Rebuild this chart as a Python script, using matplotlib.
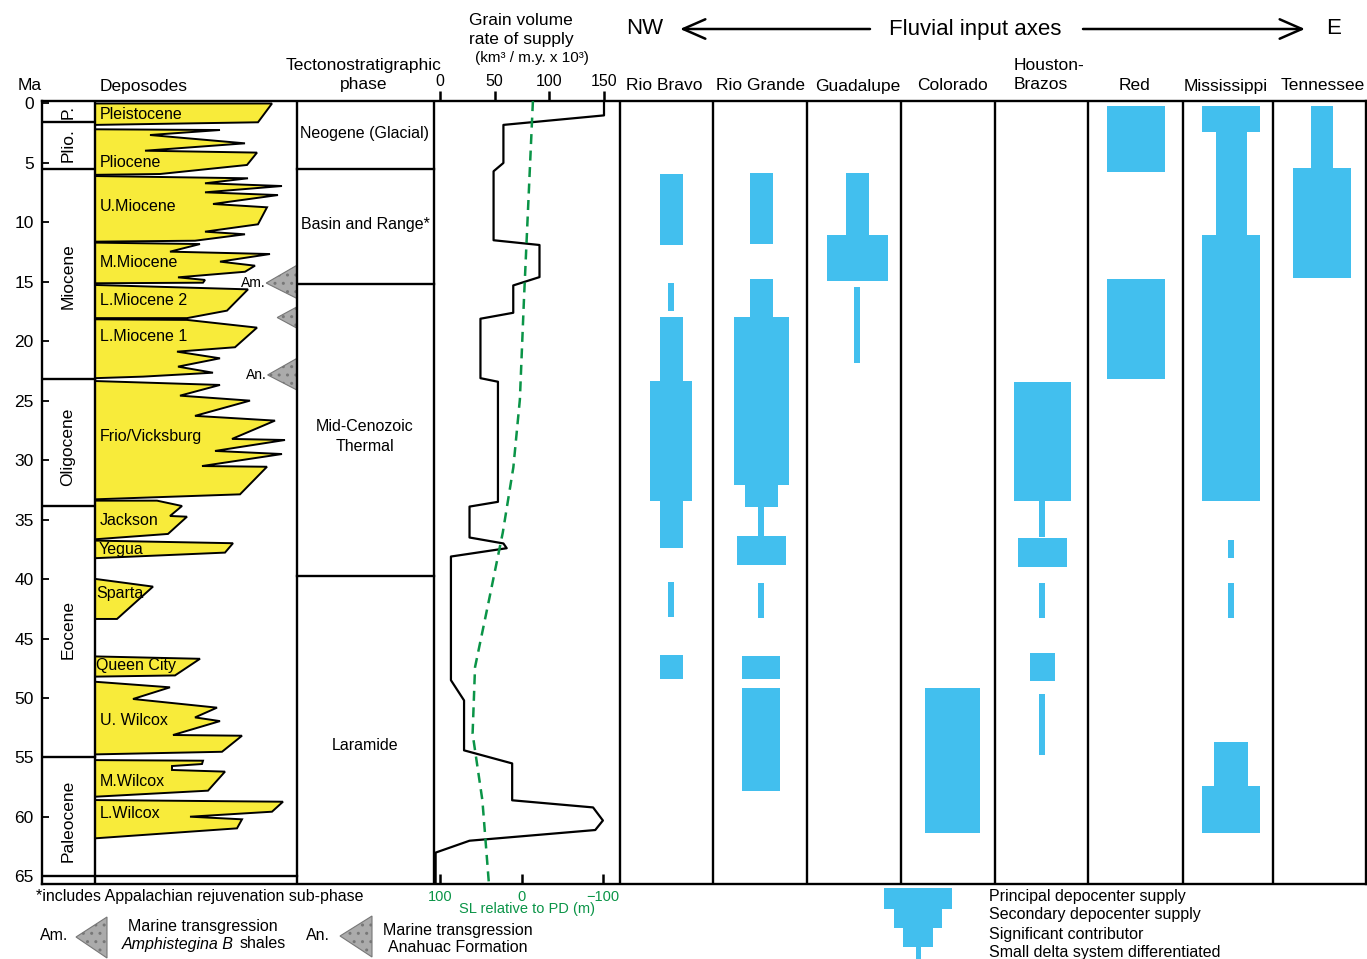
import matplotlib
matplotlib.use("Agg")
import matplotlib.pyplot as plt
from matplotlib.patches import Polygon, Rectangle

plt.rcParams['font.family'] = ['Liberation Sans', 'DejaVu Sans']

W, H = 1367, 959

# ---------------- data ----------------
ma_ticks = list(range(0, 70, 5))

epoch_names = ['P.', 'Plio.', 'Miocene', 'Oligocene', 'Eocene', 'Paleocene']
epoch_bounds = [1.56, 5.5, 23.2, 33.85, 55.0]
epoch_label_ma = [0.75, 3.5, 14.5, 28.9, 44.2, 60.3]

tecto_names = ['Neogene (Glacial)', 'Basin and Range*', 'Mid-Cenozoic\nThermal', 'Laramide']
tecto_bounds = [5.5, 15.2, 39.7]
tecto_label_ma = [2.5, 10.2, 28.0, 54.0]

deposode_names = ['Pleistocene', 'Pliocene', 'U.Miocene', 'M.Miocene', 'L.Miocene 2',
                  'L.Miocene 1', 'Frio/Vicksburg', 'Jackson', 'Yegua', 'Sparta',
                  'Queen City', 'U. Wilcox', 'M.Wilcox', 'L.Wilcox']
deposode_label_ma = [0.9, 5.0, 8.7, 13.4, 16.6, 19.6, 28.0, 35.1, 37.5, 41.25,
                     47.3, 51.9, 57.0, 59.7]
deposode_label_x = [5, 5, 5, 5, 5, 5, 5, 5, 4, 1, 1, 5, 5, 5]
# outlines: (progradation extent, Ma)
deposode_outlines = [
    [(0, 0), (177, 0), (163, 1.58), (0, 1.8)],
    [(0, 2.17), (125, 2.23), (55, 2.65), (150, 3.35), (50, 3.97), (162, 4.13),
     (152, 5.17), (65, 5.93), (0, 6.0)],
    [(0, 6.1), (153, 6.29), (110, 6.71), (187, 6.94), (110, 7.47), (183, 7.7),
     (118, 8.45), (172, 8.73), (163, 10.16), (110, 10.78), (150, 11.0),
     (100, 11.54), (0, 11.62)],
    [(0, 11.7), (105, 11.82), (75, 12.46), (175, 12.66), (125, 13.3), (160, 13.64),
     (150, 14.15), (83, 14.62), (110, 14.84), (108, 15.07), (0, 15.12)],
    [(0, 15.26), (153, 15.63), (132, 17.42), (92, 18.05), (0, 18.05)],
    [(0, 18.15), (92, 18.2), (162, 18.85), (140, 20.5), (82, 20.87), (125, 21.43),
     (83, 22.13), (118, 22.64), (48, 22.97), (0, 23.1)],
    [(0, 23.34), (125, 23.67), (85, 24.57), (155, 24.99), (100, 26.27), (180, 26.67),
     (137, 28.21), (190, 28.3), (120, 29.22), (187, 29.48), (107, 30.49),
     (172, 30.55), (145, 32.87), (0, 33.29)],
    [(0, 33.4), (62, 33.4), (87, 33.85), (75, 34.69), (92, 34.75), (73, 36.2), (0, 36.65)],
    [(0, 36.76), (138, 36.98), (130, 37.77), (0, 38.24)],
    [(0, 39.98), (58, 40.63), (22, 43.35), (0, 43.35)],
    [(0, 46.5), (105, 46.7), (80, 48.1), (0, 48.2)],
    [(0, 48.63), (75, 49.1), (38, 50.08), (122, 50.81), (100, 51.63), (125, 51.94),
     (78, 53.11), (147, 53.17), (127, 54.52), (0, 54.74)],
    [(0, 55.22), (108, 55.27), (107, 55.55), (77, 55.72), (77, 56.05), (130, 56.19),
     (113, 57.79), (0, 58.3)],
    [(0, 58.58), (188, 58.72), (177, 59.56), (95, 59.98), (147, 60.2), (142, 60.96),
     (0, 61.8)],
]

trans_labels = ['Am.', '', 'An.']
trans_top = [13.6, 17.1, 21.43]
trans_apex = [15.1, 18.0, 22.83]
trans_base = [16.4, 18.9, 24.1]

supply_ma = [-0.2, 1.0, 1.8, 5.0, 5.7, 11.5, 11.9, 14.6, 15.3, 17.6, 18.1, 23.1, 23.4,
             33.5, 33.9, 36.5, 37.0, 37.4, 38.1, 48.5, 50.2, 54.4, 55.5, 58.6, 59.2,
             60.3, 61.1, 62.0, 63.0, 65.7]
supply = [150, 150, 58, 58, 49, 49, 91, 91, 67, 67, 37, 37, 53, 53, 27, 27, 58, 61,
          10, 10, 22, 22, 66, 66, 140, 149, 142, 27, -4, -4]

sl_ma = [-0.2, 16.5, 24.9, 30.6, 36.1, 41.8, 47.4, 53.0, 58.6, 65.6]
sl = [-14, -3, 2, 10, 23, 40, 57, 60, 48, 40]

river_names = ['Rio Bravo', 'Rio Grande', 'Guadalupe', 'Colorado', 'Houston-\nBrazos',
               'Red', 'Mississippi', 'Tennessee']
# (top Ma, base Ma, supply width)
rio_bravo = [(5.93, 11.9, 23), (15.07, 17.45, 6), (17.98, 23.34, 23), (23.34, 33.4, 42),
             (33.4, 37.4, 23), (40.2, 43.2, 6), (46.4, 48.4, 23)]
rio_grande = [(5.87, 11.82, 23), (14.79, 17.98, 23), (17.98, 32.09, 55), (32.09, 33.9, 33),
              (33.9, 36.37, 6), (36.37, 38.79, 49), (40.3, 43.3, 6), (46.44, 48.4, 38),
              (49.19, 57.8, 38)]
guadalupe = [(5.87, 11.03, 23), (11.03, 14.96, 61), (15.46, 21.85, 6)]
colorado = [(49.19, 61.38, 55)]
houston_brazos = [(23.45, 33.4, 57), (33.4, 36.43, 6), (36.57, 38.96, 49), (40.3, 43.3, 6),
                  (46.24, 48.6, 25), (49.67, 54.79, 6)]
red = [(0.21, 5.76, 58), (14.79, 23.2, 58)]
mississippi = [(0.21, 2.4, 58), (2.4, 11.03, 31), (11.03, 33.4, 58), (36.74, 38.26, 6),
               (40.3, 43.3, 6), (53.67, 57.4, 34), (57.4, 61.38, 58)]
tennessee = [(0.21, 5.42, 22), (5.42, 14.68, 58)]
river_bars = [rio_bravo, rio_grande, guadalupe, colorado, houston_brazos, red,
              mississippi, tennessee]

legend_classes = ['Principal depocenter supply', 'Secondary depocenter supply',
                  'Significant contributor', 'Small delta system differentiated']
legend_widths = [68, 48, 30, 5]

# ---------------- layout / style ----------------
YELLOW = '#F8EB3A'
BLUE = '#42BFEE'
GREEN = '#0A9447'
TRI = '#ABABAB'
LW = 1.7

col_edges = [95, 297, 434, 620, 713, 807, 901, 995, 1088, 1183, 1273]
river_x = [671, 761, 857, 952, 1042, 1136, 1231, 1322]
river_label_x = [664, 760, 858, 952, 1014, 1134, 1226, 1323]
ylim = (65.64, -0.21)
top_px, bot_px = 101, 884


def fx(px):
    return px / W


fig = plt.figure(figsize=(W / 100, H / 100), dpi=100)
frame_b = 1 - bot_px / H
frame_h = (bot_px - top_px) / H

ax = fig.add_axes([fx(42), frame_b, fx(1366 - 42), frame_h])
ax.set_xlim(42, 1366)
ax.set_ylim(*ylim)
for s in ax.spines.values():
    s.set_linewidth(LW)
ax.set_xticks([])
ax.set_yticks(ma_ticks)
ax.tick_params(axis='y', direction='in', length=5, width=1.3, labelsize=12.5, pad=6)

for x in col_edges:
    ax.axvline(x, color='k', lw=LW, zorder=5)
for b in epoch_bounds:
    ax.plot([42, 95], [b, b], color='k', lw=LW)
ax.plot([42, 297], [65, 65], color='k', lw=LW)
for b in tecto_bounds:
    ax.plot([297, 434], [b, b], color='k', lw=LW)

for name, m in zip(epoch_names, epoch_label_ma):
    ax.text(68, m, name, rotation=90, ha='center', va='center', fontsize=12.5)
for name, m in zip(tecto_names, tecto_label_ma):
    ax.text(365, m, name, ha='center', va='center', fontsize=11.5, linespacing=1.4)

# deposodes
for outline, name, m, lx in zip(deposode_outlines, deposode_names, deposode_label_ma,
                                deposode_label_x):
    pts = [(95 + e, a) for e, a in outline]
    ax.add_patch(Polygon(pts, closed=True, facecolor=YELLOW, edgecolor='k', lw=1.4, zorder=2))
    ax.text(95 + lx, m, name, ha='left', va='center', fontsize=11.5, zorder=3)

# transgression triangles
for lab, t, a, b in zip(trans_labels, trans_top, trans_apex, trans_base):
    w = (b - t) * 11
    ax.add_patch(Polygon([(297 - w, a), (297, t), (297, b)], closed=True,
                         facecolor=TRI, edgecolor='#777777', hatch='..', lw=0.8, zorder=3))
    if lab:
        ax.text(297 - w - 1, a, lab, ha='right', va='center', fontsize=10, zorder=4)

# fluvial bars
for cx, bars in zip(river_x, river_bars):
    for t, b, w in bars:
        ax.bar(cx, b - t, bottom=t, width=w, color=BLUE, zorder=2)

# grain volume axis (top) and sea level axis (bottom)
ax_g = fig.add_axes([fx(434), frame_b, fx(620 - 434), frame_h])
ax_s = ax_g.twiny()
for a_ in (ax_g, ax_s):
    a_.patch.set_visible(False)
    for s in a_.spines.values():
        s.set_visible(False)

sc = 164 / 150
ax_g.set_xlim((434 - 440) / sc, (620 - 440) / sc)
ax_g.set_ylim(*ylim)
ax_g.set_yticks([])
ax_g.xaxis.tick_top()
ax_g.set_xticks([0, 50, 100, 150])
ax_g.tick_params(axis='x', direction='out', length=7, width=1.8, labelsize=11.5, pad=2)
ax_g.plot(supply, supply_ma, color='k', lw=1.6)

ax_s.xaxis.tick_bottom()
ax_s.xaxis.set_label_position('bottom')
v0 = 100 + 6 * 200 / 163
v1 = 100 - 180 * 200 / 163
ax_s.set_xlim(v0, v1)
ax_s.set_xticks([100, 0, -100])
ax_s.set_xticklabels(['100', '0', '\u2212100'])
ax_s.tick_params(axis='x', direction='in', length=7, width=1.8, labelsize=10.5,
                 labelcolor=GREEN, pad=4)
ax_s.set_xlabel('SL relative to PD (m)', color=GREEN, fontsize=10.5, labelpad=-1)
ax_s.plot(sl, sl_ma, color=GREEN, lw=1.8, ls=(0, (4, 2.6)))

# overlay for headers and legend
ax_o = fig.add_axes([0, 0, 1, 1])
ax_o.set_xlim(0, W)
ax_o.set_ylim(H, 0)
ax_o.axis('off')

ax_o.text(30, 85, 'Ma', ha='center', va='center', fontsize=12.5)
ax_o.text(100, 86, 'Deposodes', ha='left', va='center', fontsize=12.5)
ax_o.text(364, 75, 'Tectonostratigraphic\nphase', ha='center', va='center', fontsize=12.5,
          linespacing=1.35)
ax_o.text(521, 30, 'Grain volume\nrate of supply', ha='center', va='center', fontsize=12.5,
          linespacing=1.35)
ax_o.text(532, 58, '(km\u00b3 / m.y. x 10\u00b3)', ha='center', va='center', fontsize=11)
for name, x in zip(river_names, river_label_x):
    ha = 'left' if '\n' in name else 'center'
    yy = 75 if '\n' in name else 86
    ax_o.text(x, yy, name, ha=ha, va='center', fontsize=12.5, linespacing=1.35)

ax_o.text(645, 29, 'NW', ha='center', va='center', fontsize=16)
ax_o.text(975, 29, 'Fluvial input axes', ha='center', va='center', fontsize=16)
ax_o.text(1334, 29, 'E', ha='center', va='center', fontsize=16)
arrow = dict(arrowstyle='->,head_length=0.8,head_width=0.35', lw=1.8, color='k',
             mutation_scale=20, shrinkA=0, shrinkB=0)
ax_o.annotate('', xy=(680, 29), xytext=(870, 29), arrowprops=arrow)
ax_o.annotate('', xy=(1305, 29), xytext=(1083, 29), arrowprops=arrow)

ax_o.text(36, 896, '*includes Appalachian rejuvenation sub-phase', ha='left', va='center',
          fontsize=11.5)
ax_o.text(54, 936, 'Am.', ha='center', va='center', fontsize=11.5)
ax_o.add_patch(Polygon([(76, 937), (107, 917), (107, 958)], closed=True, facecolor=TRI,
                       edgecolor='#777777', hatch='..', lw=0.8))
ax_o.text(203, 926, 'Marine transgression', ha='center', va='center', fontsize=11.5)
ax_o.text(122, 944, 'Amphistegina B', ha='left', va='center', fontsize=11.5, style='italic')
ax_o.text(240, 944, 'shales', ha='left', va='center', fontsize=11.5)
ax_o.text(318, 936, 'An.', ha='center', va='center', fontsize=11.5)
ax_o.add_patch(Polygon([(340, 936), (372, 916), (372, 957)], closed=True, facecolor=TRI,
                       edgecolor='#777777', hatch='..', lw=0.8))
ax_o.text(458, 930, 'Marine transgression', ha='center', va='center', fontsize=11.5)
ax_o.text(458, 948, 'Anahuac Formation', ha='center', va='center', fontsize=11.5)

tier_y = [888, 909, 928, 947, 962]
for i, (name, w) in enumerate(zip(legend_classes, legend_widths)):
    ax_o.add_patch(Rectangle((918 - w / 2, tier_y[i]), w, tier_y[i + 1] - tier_y[i],
                             facecolor=BLUE, edgecolor='none'))
ax_o.text(989, 897, legend_classes[0], ha='left', va='center', fontsize=11.5)
ax_o.text(989, 914, legend_classes[1], ha='left', va='center', fontsize=11.5)
ax_o.text(989, 935, legend_classes[2], ha='left', va='center', fontsize=11.5)
ax_o.text(989, 953, legend_classes[3], ha='left', va='center', fontsize=11.5)

fig.savefig('out.png', dpi=100)
